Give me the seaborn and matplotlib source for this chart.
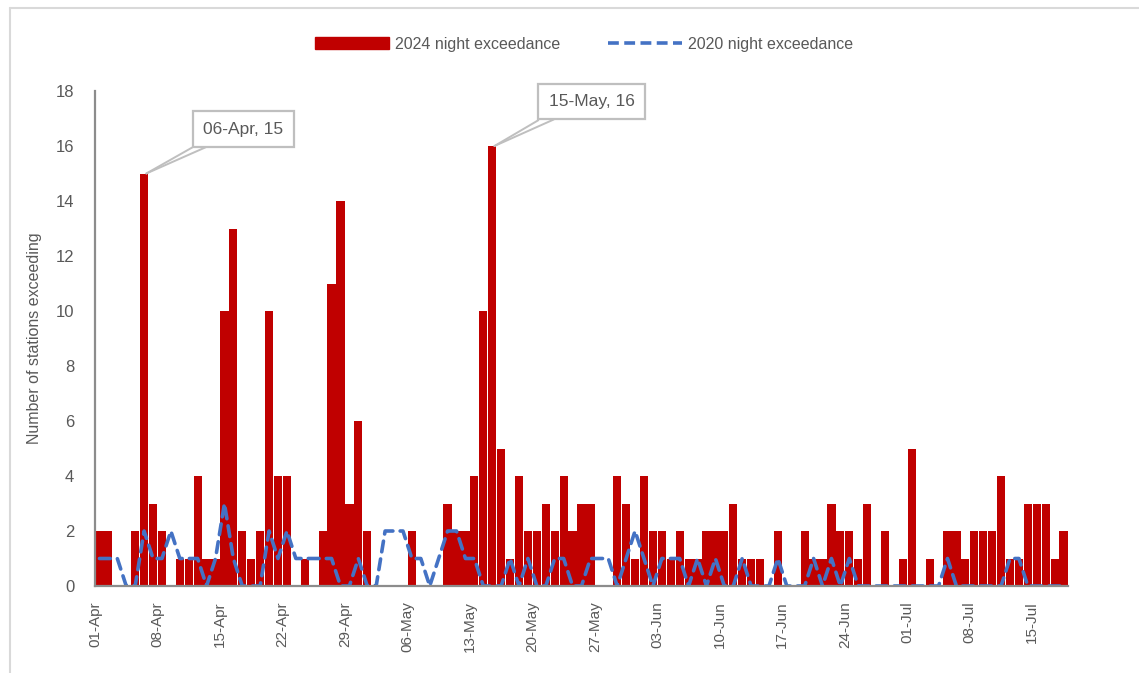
import matplotlib.pyplot as plt
import numpy as np
import pandas as pd
import seaborn as sns
from matplotlib.lines import Line2D
from matplotlib.patches import Patch

START_DATE = "2024-04-01"

# stations exceeding the night limit, one value per day from 01-Apr
night_2024 = [
    2, 2, 0, 0, 2, 15, 3, 2, 0, 1,
    1, 4, 1, 1, 10, 13, 2, 1, 2, 10,
    4, 4, 0, 1, 0, 2, 11, 14, 3, 6,
    2, 0, 0, 0, 0, 2, 0, 0, 0, 3,
    2, 2, 4, 10, 16, 5, 1, 4, 2, 2,
    3, 2, 4, 2, 3, 3, 0, 0, 4, 3,
    1, 4, 2, 2, 1, 2, 1, 1, 2, 2,
    2, 3, 1, 1, 1, 0, 2, 0, 0, 2,
    1, 1, 3, 2, 2, 1, 3, 0, 2, 0,
    1, 5, 0, 1, 0, 2, 2, 1, 2, 2,
    2, 4, 1, 1, 3, 3, 3, 1, 2,
]
night_2020 = [
    1, 1, 1, 0, 0, 2, 1, 1, 2, 1,
    1, 1, 0, 1, 3, 1, 0, 0, 0, 2,
    1, 2, 1, 1, 1, 1, 1, 0, 0, 1,
    0, 0, 2, 2, 2, 1, 1, 0, 1, 2,
    2, 1, 1, 0, 0, 0, 1, 0, 1, 0,
    0, 1, 1, 0, 0, 1, 1, 1, 0, 1,
    2, 1, 0, 1, 1, 1, 0, 1, 0, 1,
    0, 0, 1, 0, 0, 0, 1, 0, 0, 0,
    1, 0, 1, 0, 1, 0, 0, 0, 0, 0,
    0, 0, 0, 0, 0, 1, 0, 0, 0, 0,
    0, 0, 1, 1, 0, 0, 0, 0, 0,
]
week_labels = ["01-Apr", "08-Apr", "15-Apr", "22-Apr", "29-Apr", "06-May",
               "13-May", "20-May", "27-May", "03-Jun", "10-Jun", "17-Jun",
               "24-Jun", "01-Jul", "08-Jul", "15-Jul"]
callout_days = ["06-Apr", "15-May"]

RED = "#C00000"
BLUE = "#4472C4"
TEXT_GREY = "#595959"
AXIS_GREY = "#8c8c8c"
BOX_GREY = "#bfbfbf"

W, H = 1139, 673


def build_frame():
    days = pd.date_range(START_DATE, periods=len(night_2024), freq="D")
    return pd.DataFrame({
        "day": np.arange(len(days)),
        "label": days.strftime("%d-%b"),
        "y2024": night_2024,
        "y2020": night_2020,
    })


def add_callout(ax, text, x, y):
    box = dict(boxstyle="square,pad=0.6", fc="white", ec=BOX_GREY, lw=1.6)
    ghost = dict(boxstyle="square,pad=0.6", fc="none", ec="none")
    # two leader lines from the bottom of the box to the bar top
    for rel, visible in [(0.33, False), (0.1, True)]:
        ax.annotate(text, xy=(x, y), xytext=(70, 32), textcoords="offset points",
                    ha="center", va="center", fontsize=12.5,
                    color=TEXT_GREY if visible else "none",
                    bbox=box if visible else ghost,
                    arrowprops=dict(arrowstyle="-", color=BOX_GREY, lw=1.4,
                                    shrinkA=0, shrinkB=0, relpos=(rel, 0)),
                    zorder=5 if visible else 4)


def main():
    df = build_frame()

    sns.set_theme(style="white")
    plt.rcParams["font.family"] = ["Liberation Sans", "DejaVu Sans"]
    plt.rcParams["font.stretch"] = "condensed"

    fig = plt.figure(figsize=(W / 100, H / 100), dpi=100)
    ax = fig.add_axes([95 / W, 1 - 586 / H, (1068 - 95) / W, (586 - 91) / H])

    sns.barplot(data=df, x="day", y="y2024", color=RED, saturation=1,
                width=0.92, linewidth=0, native_scale=True, ax=ax)
    sns.lineplot(data=df, x="day", y="y2020", color=BLUE, linewidth=2.6,
                 linestyle=(0, (3, 2)), dash_capstyle="round", ax=ax)

    ax.set_xlim(-0.5, len(df) - 0.5)
    ax.set_ylim(0, 18)
    ax.set_yticks(range(0, 19, 2))
    week = df[df["label"].isin(week_labels)]
    ax.set_xticks(week["day"] - 0.5)
    ax.set_xticklabels(week["label"], rotation=90)

    for side in ["top", "right"]:
        ax.spines[side].set_visible(False)
    for side in ["left", "bottom"]:
        ax.spines[side].set_color(AXIS_GREY)
        ax.spines[side].set_linewidth(1.6)
    ax.tick_params(axis="both", length=5, width=1.6, color=AXIS_GREY,
                   labelcolor=TEXT_GREY, labelsize=11)
    ax.tick_params(axis="y", pad=10, labelsize=12)
    ax.tick_params(axis="x", pad=6)
    ax.set_xlabel("")
    ax.set_ylabel("Number of stations exceeding", fontsize=11.5,
                  color=TEXT_GREY, labelpad=10)

    for lab in callout_days:
        row = df[df["label"] == lab].iloc[0]
        add_callout(ax, f"{lab}, {row['y2024']}", row["day"] + 0.25, row["y2024"])

    handles = [Patch(color=RED),
               Line2D([], [], color=BLUE, lw=2.6, linestyle=(0, (3, 1.5)))]
    fig.legend(handles, ["2024 night exceedance", "2020 night exceedance"],
               loc="center", bbox_to_anchor=(0.513, 1 - 44 / H), ncol=2,
               frameon=False, handlelength=4.6, handletextpad=0.4,
               columnspacing=3, fontsize=11.5, labelcolor=TEXT_GREY)

    # chart frame
    fig.add_artist(Line2D([10 / W, 10 / W], [0, 1 - 8 / H], transform=fig.transFigure,
                          color="#d9d9d9", lw=1.5))
    fig.add_artist(Line2D([10 / W, 1], [1 - 8 / H, 1 - 8 / H], transform=fig.transFigure,
                          color="#d9d9d9", lw=1.5))

    fig.savefig("out.png", dpi=100)


main()
